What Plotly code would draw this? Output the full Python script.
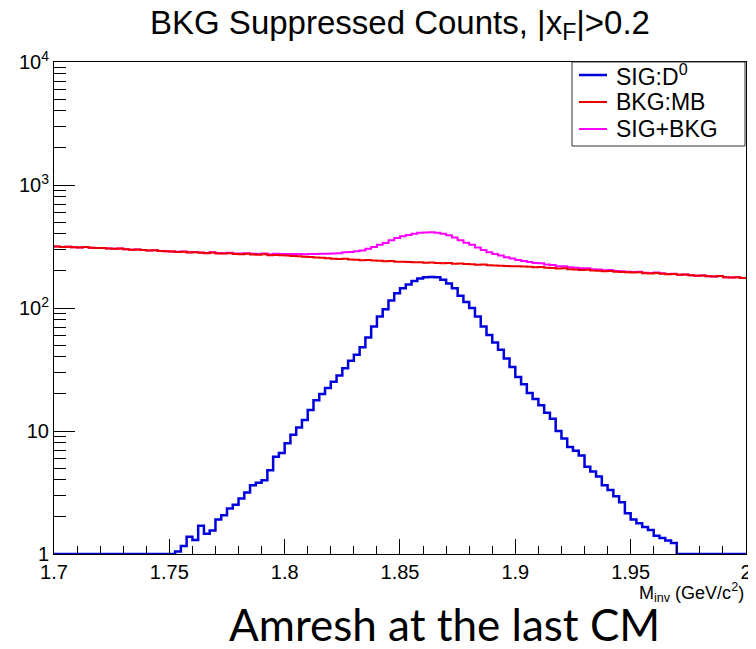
import numpy as np
import plotly.graph_objects as go

# ---------------- data ----------------
x_min, x_max, n_bins = 1.7, 2.0, 120

bkg_mb = [
    316, 314, 315, 312, 311, 313, 309, 307, 308, 304, 303, 305, 300, 298, 299, 296, 293, 295, 291, 289,
    288, 285, 287, 283, 284, 281, 279, 282, 278, 277, 279, 275, 274, 276, 272, 271, 273, 269, 270, 268,
    267, 265, 264, 261, 260, 257, 256, 254, 252, 250, 251, 248, 247, 245, 246, 243, 242, 240, 241, 238,
    238, 237, 235, 236, 233, 234, 232, 231, 232, 229, 230, 228, 227, 225, 226, 223, 222, 221, 220, 219,
    218, 217, 216, 214, 215, 212, 211, 209, 210, 207, 206, 204, 205, 202, 201, 199, 200, 197, 196, 195,
    194, 195, 192, 191, 193, 190, 188, 189, 186, 187, 185, 183, 184, 181, 180, 182, 178, 177, 178, 175,
]

sig_d0 = (
    [0] * 21
    + [1.05, 1.16, 1.38, 1.30, 1.70, 1.46, 1.55, 1.91, 2.07,
       2.34, 2.51, 2.82, 3.16, 3.63, 3.80, 3.98, 4.79, 6.17, 6.61,
       7.94, 9.33, 10.7, 12.3, 14.8, 17.8, 20.0, 22.4, 25.1, 28.2,
       32.4, 37.2, 41.7, 47.9, 57.5, 70.8, 85.1, 97.7, 115, 132,
       145, 155, 166, 174, 178, 179, 178, 170, 158, 145,
       126, 112, 100, 85.1, 70.8, 60.3, 52.5, 45.7, 38.9, 33.1,
       27.5, 24.0, 20.4, 18.2, 16.2, 14.1, 12.6, 10.0, 8.71, 7.41,
       6.92, 6.31, 5.13, 4.68, 4.27, 3.63, 3.31, 2.95, 2.63, 2.14,
       1.91, 1.78, 1.66, 1.57, 1.41, 1.35, 1.29, 1.23]
    + [0] * 12
)

x_tick_vals = [1.7, 1.75, 1.8, 1.85, 1.9, 1.95, 2.0]
x_tick_text = ["1.7", "1.75", "1.8", "1.85", "1.9", "1.95", "2"]
y_tick_vals = [1, 10, 100, 1000, 10000]
y_tick_text = ["1", "10", "10<sup>2</sup>", "10<sup>3</sup>", "10<sup>4</sup>"]

series_names = ["SIG:D<sup>0</sup>", "BKG:MB", "SIG+BKG"]
series_colors = ["#0000dd", "#ee0000", "#ff00ff"]
series_widths = [2.5, 2, 2]

# ---------------- build figure ----------------
edges = np.linspace(x_min, x_max, n_bins + 1)
sig = np.array(sig_d0, dtype=float)
bkg = np.array(bkg_mb, dtype=float)
tot = sig + bkg

y_floor = 1.0  # empty bins drawn on the frame bottom (log-scale minimum)


def step_xy(vals):
    v = np.where(vals > 0, vals, y_floor)
    return list(edges), list(v) + [v[-1]]


fig = go.Figure()
# draw order: SIG+BKG, BKG, SIG
for idx, vals in [(2, tot), (1, bkg), (0, sig)]:
    xs, ys = step_xy(vals)
    fig.add_trace(go.Scatter(x=xs, y=ys, mode="lines", line_shape="hv",
                             line=dict(color=series_colors[idx], width=series_widths[idx]),
                             name=series_names[idx], showlegend=False))

x_minor = [round(1.7 + 0.01 * i, 2) for i in range(31)]
x_minor = [v for v in x_minor if all(abs(v - t) > 1e-9 for t in x_tick_vals)]
y_minor = [m * 10 ** d for d in range(4) for m in range(2, 10)]

axis_font = dict(family="Liberation Sans", size=20, color="black")

fig.update_xaxes(
    range=[x_min, x_max + 1e-5], tickmode="array", tickvals=x_tick_vals, ticktext=x_tick_text,
    ticks="inside", ticklen=15, tickwidth=1, tickcolor="black",
    showline=True, linecolor="black", linewidth=1, mirror=True,
    showgrid=False, zeroline=False, tickfont=axis_font, ticklabeloverflow="allow",
    minor=dict(tickmode="array", tickvals=x_minor, ticks="inside", ticklen=8,
               tickcolor="black", showgrid=False),
)
fig.update_yaxes(
    type="log", range=[0, 4], tickmode="array", tickvals=y_tick_vals, ticktext=y_tick_text,
    ticks="inside", ticklen=21, tickwidth=1, tickcolor="black",
    showline=True, linecolor="black", linewidth=1, mirror=True,
    showgrid=False, zeroline=False, tickfont=axis_font,
    minor=dict(tickmode="array", tickvals=y_minor, ticks="inside", ticklen=12,
               tickcolor="black", showgrid=False),
)

# page has an 8px body margin: figure is laid out in page coordinates minus 8
OFF = 8
W, H = 756 - OFF, 649 - 2 * OFF
PL, PR, PT, PB = 54, 746, 62, 554          # plot frame in page pixels
L, T = PL - OFF, PT - OFF
R = W - (PR - OFF)
B = H - (PB - OFF)
plot_w = PR - PL
plot_h = PB - PT


def px(xp):
    return (xp - PL) / plot_w


def py(yp):
    return (PB - yp) / plot_h


fig.update_layout(
    width=W, height=H,
    margin=dict(l=L, r=R, t=T, b=B, autoexpand=False),
    paper_bgcolor="white", plot_bgcolor="white",
    title=dict(text="BKG Suppressed Counts, |x<sub>F</sub>|>0.2",
               x=(L + plot_w / 2) / W, xanchor="center", xref="container",
               y=1 - (22 - OFF) / H, yanchor="middle", yref="container",
               font=dict(family="Liberation Sans", size=33, color="black")),
    showlegend=False,
    hovermode=False,
)

# ---- legend box (ROOT TLegend style) ----
fig.add_shape(type="rect", xref="paper", yref="paper",
              x0=px(572), x1=px(745), y0=py(146), y1=py(62),
              line=dict(color="#333333", width=1), fillcolor="white", layer="above")
for k, yc in enumerate([75, 102, 129]):
    fig.add_shape(type="line", xref="paper", yref="paper",
                  x0=px(579), x1=px(607), y0=py(yc), y1=py(yc),
                  line=dict(color=series_colors[k], width=series_widths[k]), layer="above")
    fig.add_annotation(text=series_names[k], xref="paper", yref="paper",
                       x=px(614), y=py(yc), xanchor="left", yanchor="middle",
                       showarrow=False,
                       font=dict(family="Liberation Sans", size=23, color="black"))

fig.add_annotation(text="M<sub>inv</sub> (GeV/c<sup>2</sup>)", xref="paper", yref="paper",
                   x=1, y=py(592), xanchor="right", yanchor="middle",
                   showarrow=False, font=dict(family="Liberation Sans", size=18, color="black"))
fig.add_annotation(text="Amresh at the last CM", xref="paper", yref="paper",
                   x=px(444), y=py(624),
                   xanchor="center", yanchor="middle", showarrow=False,
                   font=dict(family="Lato", size=44, color="black"))

fig.write_html("out.html")
